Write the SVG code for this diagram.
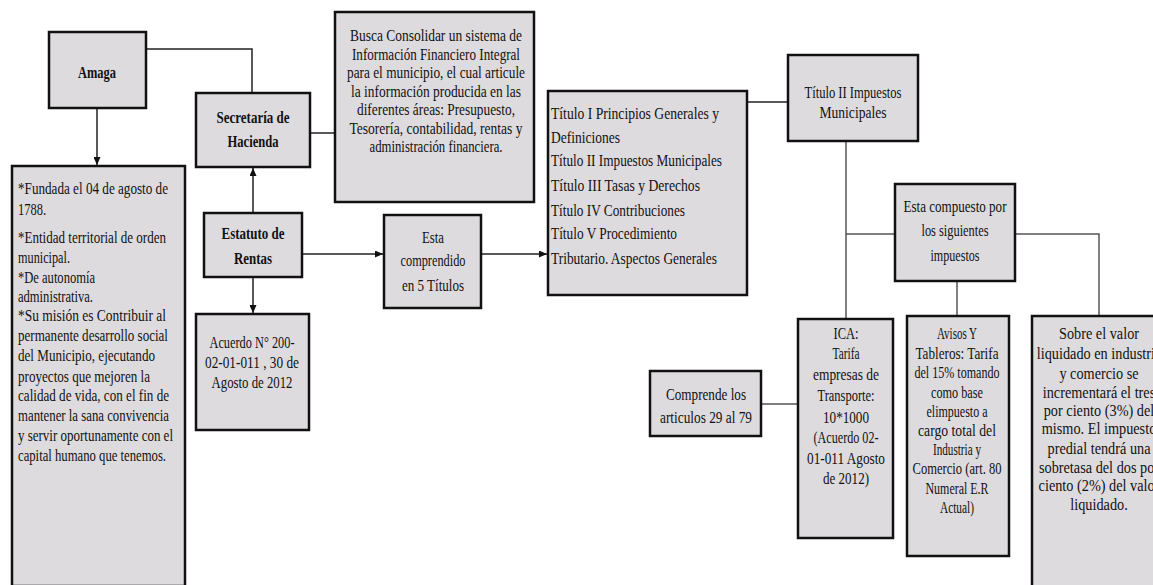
<svg xmlns="http://www.w3.org/2000/svg" width="1153" height="585" viewBox="0 0 1153 585">
<style>
.box{fill:#dedbde;stroke:#111;stroke-width:2.5}
.t{font-family:"Liberation Serif","Times New Roman",serif;font-size:17px;fill:#111}
.c{text-anchor:middle}
.b{font-weight:bold}
.ln{fill:none;stroke:#222;stroke-width:1.5}
.lg{fill:none;stroke:#555;stroke-width:1.5}
</style>
<defs>
<marker id="ah" markerWidth="8" markerHeight="7" refX="8" refY="3.5" orient="auto" markerUnits="userSpaceOnUse">
<path d="M0,0 L8,3.5 L0,7 z" fill="#111"/>
</marker>
</defs>
<rect width="1153" height="585" fill="#fff"/>

<g id="connectors">
<path class="ln" d="M97,108 V165" marker-end="url(#ah)"/>
<path class="ln" d="M146,49 H252 V93"/>
<path class="ln" d="M310,133 H335"/>
<path class="ln" d="M253,213 V168" marker-end="url(#ah)"/>
<path class="ln" d="M253,277 V313" marker-end="url(#ah)"/>
<path class="ln" d="M302,254 H383" marker-end="url(#ah)"/>
<path class="ln" d="M481,254 H547" marker-end="url(#ah)"/>
<path class="ln" d="M747,102 H788"/>
<path class="lg" d="M846,141 V319"/>
<path class="lg" d="M846,234 H895"/>
<path class="lg" d="M1015,234 H1099 V316"/>
<path class="lg" d="M957,281 V316"/>
<path class="lg" d="M761,404 H798"/>
</g>

<g id="amaga">
<rect class="box" x="49" y="32" width="97" height="76"/>
<text class="t c b" x="97" y="78" textLength="38" lengthAdjust="spacingAndGlyphs">Amaga</text>
</g>

<g id="amaga-info">
<rect class="box" x="12" y="166" width="173" height="420"/>
<text class="t" x="18" y="194" textLength="150" lengthAdjust="spacingAndGlyphs">*Fundada el 04 de agosto de</text>
<text class="t" x="18" y="215" textLength="28" lengthAdjust="spacingAndGlyphs">1788.</text>
<text class="t" x="18" y="243" textLength="148" lengthAdjust="spacingAndGlyphs">*Entidad territorial de orden</text>
<text class="t" x="18" y="263" textLength="52" lengthAdjust="spacingAndGlyphs">municipal.</text>
<text class="t" x="18" y="283" textLength="77" lengthAdjust="spacingAndGlyphs">*De autonomía</text>
<text class="t" x="18" y="302" textLength="75" lengthAdjust="spacingAndGlyphs">administrativa.</text>
<text class="t" x="18" y="321" textLength="148" lengthAdjust="spacingAndGlyphs">*Su misión  es Contribuir al</text>
<text class="t" x="18" y="341" textLength="150" lengthAdjust="spacingAndGlyphs">permanente desarrollo social</text>
<text class="t" x="18" y="361" textLength="137" lengthAdjust="spacingAndGlyphs">del Municipio, ejecutando</text>
<text class="t" x="18" y="382" textLength="132" lengthAdjust="spacingAndGlyphs">proyectos que mejoren la</text>
<text class="t" x="18" y="401" textLength="151" lengthAdjust="spacingAndGlyphs">calidad de vida, con el fin de</text>
<text class="t" x="18" y="421" textLength="151" lengthAdjust="spacingAndGlyphs">mantener la sana convivencia</text>
<text class="t" x="18" y="441" textLength="155" lengthAdjust="spacingAndGlyphs">y servir oportunamente con el</text>
<text class="t" x="18" y="461" textLength="148" lengthAdjust="spacingAndGlyphs">capital humano que tenemos.</text>
</g>

<g id="secretaria">
<rect class="box" x="196" y="93" width="114" height="74"/>
<text class="t c b" x="253" y="123" textLength="73" lengthAdjust="spacingAndGlyphs">Secretaría de</text>
<text class="t c b" x="253" y="147" textLength="51" lengthAdjust="spacingAndGlyphs">Hacienda</text>
</g>

<g id="busca">
<rect class="box" x="335" y="12" width="199" height="190"/>
<g class="t c" font-size="15.5">
<text x="436" y="41" textLength="172" lengthAdjust="spacingAndGlyphs">Busca Consolidar un sistema de</text>
<text x="436" y="59.5" textLength="168" lengthAdjust="spacingAndGlyphs">Información Financiero Integral</text>
<text x="436" y="78" textLength="178" lengthAdjust="spacingAndGlyphs">para el municipio, el cual articule</text>
<text x="436" y="96.5" textLength="170" lengthAdjust="spacingAndGlyphs">la información producida en las</text>
<text x="436" y="115" textLength="158" lengthAdjust="spacingAndGlyphs">diferentes áreas: Presupuesto,</text>
<text x="436" y="133.5" textLength="173" lengthAdjust="spacingAndGlyphs">Tesorería, contabilidad, rentas y</text>
<text x="436" y="152" textLength="133" lengthAdjust="spacingAndGlyphs">administración financiera.</text>
</g>
</g>

<g id="estatuto">
<rect class="box" x="204" y="213" width="98" height="64"/>
<text class="t c b" x="253" y="239" textLength="63" lengthAdjust="spacingAndGlyphs">Estatuto de</text>
<text class="t c b" x="253" y="264" textLength="38" lengthAdjust="spacingAndGlyphs">Rentas</text>
</g>

<g id="acuerdo">
<rect class="box" x="196" y="314" width="113" height="116"/>
<text class="t c" x="252" y="348" textLength="85" lengthAdjust="spacingAndGlyphs">Acuerdo N° 200-</text>
<text class="t c" x="252" y="368" textLength="94" lengthAdjust="spacingAndGlyphs">02-01-011 , 30 de</text>
<text class="t c" x="252" y="388" textLength="81" lengthAdjust="spacingAndGlyphs">Agosto de 2012</text>
</g>

<g id="esta-comprendido">
<rect class="box" x="384" y="215" width="97" height="93"/>
<text class="t c" x="433" y="243" textLength="22" lengthAdjust="spacingAndGlyphs">Esta</text>
<text class="t c" x="433" y="266" textLength="65" lengthAdjust="spacingAndGlyphs">comprendido</text>
<text class="t c" x="433" y="291" textLength="62" lengthAdjust="spacingAndGlyphs">en 5 Títulos</text>
</g>

<g id="titulos">
<rect class="box" x="548" y="91" width="199" height="204"/>
<text class="t" x="551" y="119" textLength="168" lengthAdjust="spacingAndGlyphs">Título I Principios Generales y</text>
<text class="t" x="551" y="143" textLength="69" lengthAdjust="spacingAndGlyphs">Definiciones</text>
<text class="t" x="551" y="166" textLength="171" lengthAdjust="spacingAndGlyphs">Título II Impuestos Municipales</text>
<text class="t" x="551" y="191" textLength="149" lengthAdjust="spacingAndGlyphs">Título III Tasas y Derechos</text>
<text class="t" x="551" y="216" textLength="134" lengthAdjust="spacingAndGlyphs">Título IV Contribuciones</text>
<text class="t" x="551" y="239" textLength="126" lengthAdjust="spacingAndGlyphs">Título V Procedimiento</text>
<text class="t" x="551" y="264" textLength="166" lengthAdjust="spacingAndGlyphs">Tributario. Aspectos Generales</text>
</g>

<g id="titulo-ii">
<rect class="box" x="788" y="55" width="130" height="86"/>
<text class="t c" x="853" y="98" textLength="97" lengthAdjust="spacingAndGlyphs">Título II Impuestos</text>
<text class="t c" x="853" y="118" textLength="67" lengthAdjust="spacingAndGlyphs">Municipales</text>
</g>

<g id="esta-compuesto">
<rect class="box" x="895" y="184" width="120" height="97"/>
<text class="t c" x="955" y="212" textLength="103" lengthAdjust="spacingAndGlyphs">Esta compuesto por</text>
<text class="t c" x="955" y="236" textLength="67" lengthAdjust="spacingAndGlyphs">los siguientes</text>
<text class="t c" x="955" y="261" textLength="49" lengthAdjust="spacingAndGlyphs">impuestos</text>
</g>

<g id="comprende">
<rect class="box" x="650" y="371" width="111" height="65"/>
<text class="t c" x="706" y="400" textLength="80" lengthAdjust="spacingAndGlyphs">Comprende los</text>
<text class="t c" x="706" y="423" textLength="92" lengthAdjust="spacingAndGlyphs">articulos 29 al 79</text>
</g>

<g id="ica">
<rect class="box" x="798" y="319" width="95" height="219"/>
<text class="t c" x="846" y="339" textLength="25" lengthAdjust="spacingAndGlyphs">ICA:</text>
<text class="t c" x="846" y="359" textLength="27" lengthAdjust="spacingAndGlyphs">Tarifa</text>
<text class="t c" x="846" y="380" textLength="66" lengthAdjust="spacingAndGlyphs">empresas de</text>
<text class="t c" x="846" y="401" textLength="57" lengthAdjust="spacingAndGlyphs">Transporte:</text>
<text class="t c" x="846" y="423" textLength="46" lengthAdjust="spacingAndGlyphs">10*1000</text>
<text class="t c" x="846" y="443" textLength="65" lengthAdjust="spacingAndGlyphs">(Acuerdo 02-</text>
<text class="t c" x="846" y="464" textLength="78" lengthAdjust="spacingAndGlyphs">01-011 Agosto</text>
<text class="t c" x="846" y="484" textLength="46" lengthAdjust="spacingAndGlyphs">de 2012)</text>
</g>

<g id="avisos">
<rect class="box" x="907" y="316" width="102" height="240"/>
<g class="t c" font-size="16.5">
<text x="957" y="339" textLength="40" lengthAdjust="spacingAndGlyphs">Avisos Y</text>
<text x="957" y="359" textLength="83" lengthAdjust="spacingAndGlyphs">Tableros: Tarifa</text>
<text x="957" y="378" textLength="85" lengthAdjust="spacingAndGlyphs">del 15% tomando</text>
<text x="957" y="398" textLength="52" lengthAdjust="spacingAndGlyphs">como base</text>
<text x="957" y="417" textLength="61" lengthAdjust="spacingAndGlyphs">elimpuesto a</text>
<text x="957" y="436" textLength="78" lengthAdjust="spacingAndGlyphs">cargo total del</text>
<text x="957" y="455" textLength="48" lengthAdjust="spacingAndGlyphs">Industria y</text>
<text x="957" y="474" textLength="89" lengthAdjust="spacingAndGlyphs">Comercio (art. 80</text>
<text x="957" y="494" textLength="63" lengthAdjust="spacingAndGlyphs">Numeral E.R</text>
<text x="957" y="513" textLength="34" lengthAdjust="spacingAndGlyphs">Actual)</text>
</g>
</g>

<g id="sobre">
<rect class="box" x="1032" y="316" width="140" height="290"/>
<g class="t c" font-size="16.5" transform="translate(1099,0) scale(0.84,1)">
<text x="0" y="339">Sobre el valor</text>
<text x="0" y="359">liquidado  en industria</text>
<text x="0" y="379">y comercio  se</text>
<text x="0" y="398">incrementará  el tres</text>
<text x="0" y="416">por ciento  (3%) del</text>
<text x="0" y="434">mismo.  El impuesto</text>
<text x="0" y="454">predial tendrá una</text>
<text x="0" y="473">sobretasa del dos por</text>
<text x="0" y="491">ciento  (2%) del valor</text>
<text x="0" y="510">liquidado.</text>
</g>
</g>
</svg>
